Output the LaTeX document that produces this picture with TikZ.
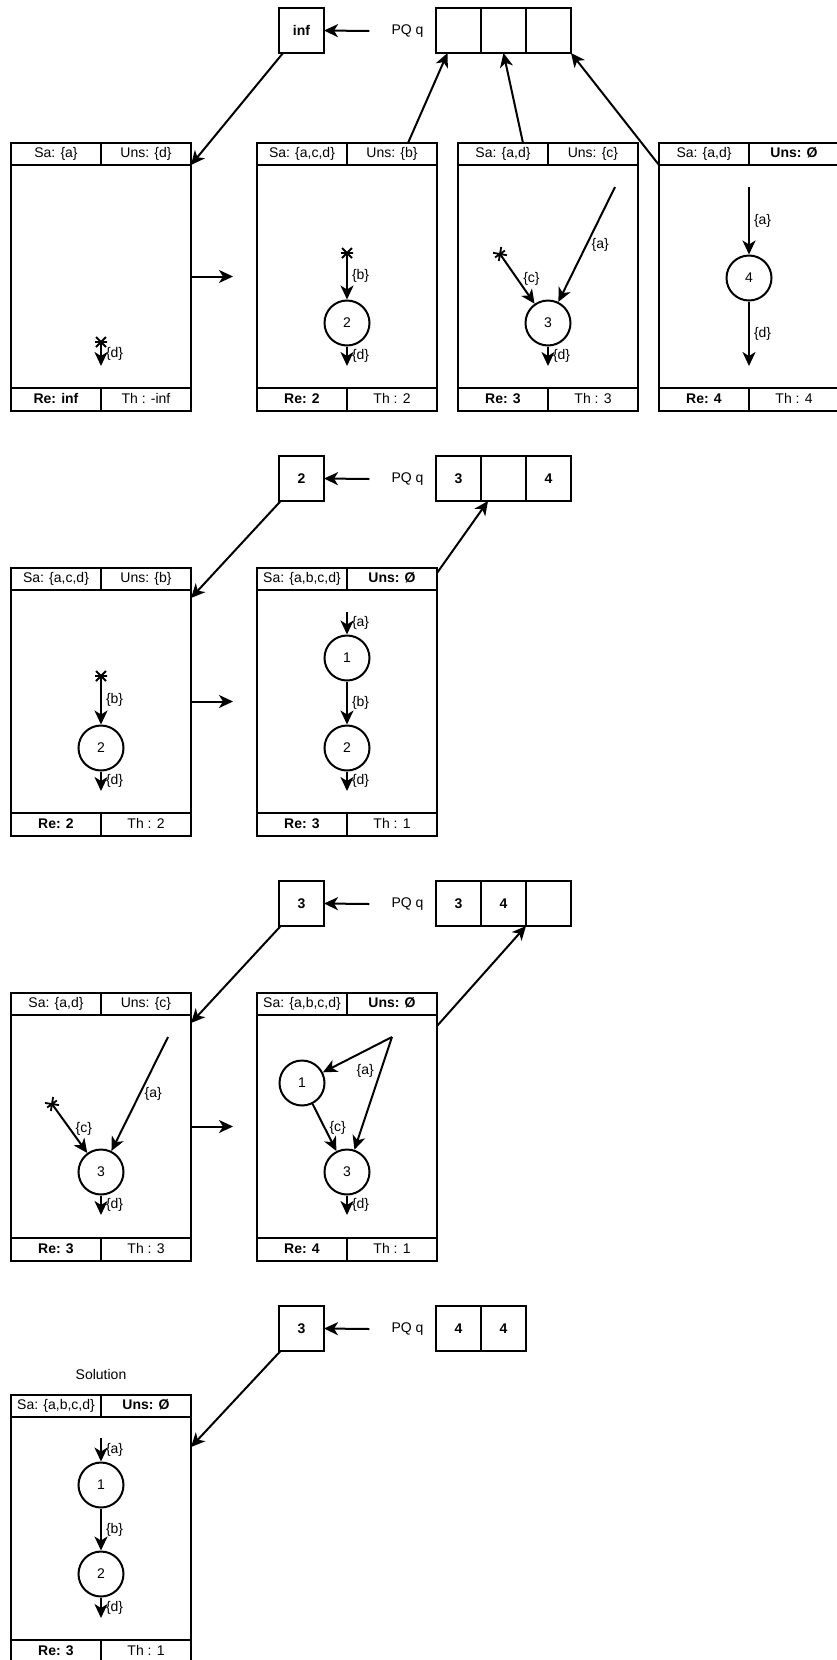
\documentclass[tikz,border=0pt]{standalone}
\usepackage{fontspec}
\setmainfont{Liberation Sans}
\usepackage{tikz}
\usetikzlibrary{
  arrows.meta,
  calc,
  positioning
}

% start marker of an edge with no source
\tikzset{
  nullmark/.pic={
    \draw[line width=1.8pt] (0,-6) -- (0,6) (-5,-5) -- (5,5) (-5,5) -- (5,-5);
  }
}

% #1 name, #2 #3 top left corner, #4 #5 header, #6 #7 footer
\newcommand{\searchstep}[7]{%
  \node[cell, anchor=north west] (#1-sa) at (#2,#3) {#4};
  \node[cell, right=0pt of #1-sa] (#1-uns) {#5};
  \node[pane, anchor=north west] (#1-body) at (#1-sa.south west) {};
  \node[cell, anchor=north west, minimum height=23pt] (#1-re) at (#1-body.south west) {\textbf{#6}};
  \node[cell, right=0pt of #1-re, minimum height=23pt] (#1-th) {#7};
}

\begin{document}
\begin{tikzpicture}[
  x=1pt, y=-1pt,
  every node/.append style={font=\fontsize{14}{16}\selectfont},
  cell/.style={draw, line width=2pt, minimum width=90pt, minimum height=22pt,
               inner sep=0pt, outer sep=0pt, text height=10pt, text depth=3pt},
  pane/.style={draw, line width=2pt, minimum width=180pt, minimum height=223pt,
               inner sep=0pt, outer sep=0pt},
  popbox/.style={draw, line width=2pt, minimum size=45pt, inner sep=0pt, outer sep=0pt},
  slot/.style={popbox},
  pqlabel/.style={inner xsep=22pt},
  state/.style={circle, draw, line width=2pt, minimum size=45pt, inner sep=0pt},
  lbl/.style={inner sep=2pt},
  arr/.style={-{Stealth[length=14pt, width=13pt, inset=4pt]}, line width=2pt}
]
\useasboundingbox (0,0) rectangle (836,1660);

% Step 1
\node[popbox] (pop1) at (301.5,30.5) {\textbf{inf}};
\node[pqlabel] (pq1) at (407.5,31) {PQ q};
\node[slot] (q1a) at (458.5,30.5) {};
\node[slot, right=0pt of q1a] (q1b) {};
\node[slot, right=0pt of q1b] (q1c) {};

\searchstep{F1}{11}{143}{Sa: \{a\}}{Uns: \{d\}}{Re: inf}{Th : -inf}
\searchstep{F2}{257}{143}{Sa: \{a,c,d\}}{Uns: \{b\}}{Re: 2}{Th : 2}
\searchstep{F3}{458}{143}{Sa: \{a,d\}}{Uns: \{c\}}{Re: 3}{Th : 3}
\searchstep{F4}{659}{143}{Sa: \{a,d\}}{\textbf{Uns: Ø}}{Re: 4}{Th : 4}

\coordinate (F1-src) at (101,342);
\coordinate (F1-end) at (101,366);
\draw[arr] (F1-src) -- node[lbl, right=2pt] {\{d\}} (F1-end);
\pic[rotate=-90] at (F1-src) {nullmark};

\node[state] (F2-n2) at (347,323) {2};
\coordinate (F2-src) at (347,253);
\coordinate (F2-end) at (347,366);
\draw[arr] (F2-src) -- node[lbl, right=2pt] {\{b\}} (F2-n2);
\draw[arr] (F2-n2) -- node[lbl, right=2pt] {\{d\}} (F2-end);
\pic[rotate=-90] at (F2-src) {nullmark};

\node[state] (F3-n3) at (548,323) {3};
\coordinate (F3-src) at (500,254);
\coordinate (F3-top) at (615,187);
\coordinate (F3-end) at (548,366);
\draw[arr] (F3-src) -- node[lbl, right=3pt] {\{c\}} (F3-n3);
\draw[arr] (F3-top) -- node[lbl, right=2pt] {\{a\}} (F3-n3);
\draw[arr] (F3-n3) -- node[lbl, right=2pt] {\{d\}} (F3-end);
\pic[rotate=-55] at (F3-src) {nullmark};

\node[state] (F4-n4) at (749,278) {4};
\coordinate (F4-top) at (749,187);
\coordinate (F4-end) at (749,366);
\draw[arr] (F4-top) -- node[lbl, right=2pt] {\{a\}} (F4-n4);
\draw[arr] (F4-n4) -- node[lbl, right=2pt] {\{d\}} (F4-end);

\draw[arr] (pq1.west) -- (pop1.east);
\draw[arr] (pop1) -- (F1-body.north east);
\draw[arr, shorten >=24pt] (F1-body.east) -- (F2-body.west);
\draw[arr] ($(F2-uns.north west)+(61,0)$) -- ($(q1a.south)+(-11,0)$);
\draw[arr] ($(F3-sa.north)+(20,0)$) -- (q1b.south);
\draw[arr] (F4-body.north west) -- (q1c.south east);

% Step 2
\node[popbox] (pop2) at (301.5,478.5) {\textbf{2}};
\node[pqlabel] (pq2) at (407.5,479) {PQ q};
\node[slot] (q2a) at (458.5,478.5) {\textbf{3}};
\node[slot, right=0pt of q2a] (q2b) {};
\node[slot, right=0pt of q2b] (q2c) {\textbf{4}};

\searchstep{G1}{11}{568}{Sa: \{a,c,d\}}{Uns: \{b\}}{Re: 2}{Th : 2}
\searchstep{G2}{257}{568}{Sa: \{a,b,c,d\}}{\textbf{Uns: Ø}}{Re: 3}{Th : 1}

\node[state] (G1-n2) at (101,748) {2};
\coordinate (G1-src) at (101,676);
\coordinate (G1-end) at (101,791);
\draw[arr] (G1-src) -- node[lbl, right=2pt] {\{b\}} (G1-n2);
\draw[arr] (G1-n2) -- node[lbl, right=2pt] {\{d\}} (G1-end);
\pic[rotate=-90] at (G1-src) {nullmark};

\node[state] (G2-n1) at (347,658) {1};
\node[state] (G2-n2) at (347,748) {2};
\coordinate (G2-top) at (347,612);
\coordinate (G2-end) at (347,791);
\draw[arr] (G2-top) -- node[lbl, right=2pt] {\{a\}} (G2-n1);
\draw[arr] (G2-n1) -- node[lbl, right=2pt] {\{b\}} (G2-n2);
\draw[arr] (G2-n2) -- node[lbl, right=2pt] {\{d\}} (G2-end);

\draw[arr] (pq2.west) -- (pop2.east);
\draw[arr] (pop2) -- ($(G1-body.north east)+(0,8)$);
\draw[arr, shorten >=24pt] (G1-body.east) -- (G2-body.west);
\draw[arr] ($(G2-uns.north east)+(0,5)$) -- ($(q2b.south west)+(7,0)$);

% Step 3
\node[popbox] (pop3) at (301.5,903.5) {\textbf{3}};
\node[pqlabel] (pq3) at (407.5,904) {PQ q};
\node[slot] (q3a) at (458.5,903.5) {\textbf{3}};
\node[slot, right=0pt of q3a] (q3b) {\textbf{4}};
\node[slot, right=0pt of q3b] (q3c) {};

\searchstep{H1}{11}{993}{Sa: \{a,d\}}{Uns: \{c\}}{Re: 3}{Th : 3}
\searchstep{H2}{257}{993}{Sa: \{a,b,c,d\}}{\textbf{Uns: Ø}}{Re: 4}{Th : 1}

\node[state] (H1-n3) at (101,1172) {3};
\coordinate (H1-src) at (52,1104);
\coordinate (H1-top) at (168,1037);
\coordinate (H1-end) at (101,1215);
\draw[arr] (H1-src) -- node[lbl, right=3pt] {\{c\}} (H1-n3);
\draw[arr] (H1-top) -- node[lbl, right=2pt] {\{a\}} (H1-n3);
\draw[arr] (H1-n3) -- node[lbl, right=2pt] {\{d\}} (H1-end);
\pic[rotate=-54] at (H1-src) {nullmark};

\node[state] (H2-n1) at (302,1083) {1};
\node[state] (H2-n3) at (347,1172) {3};
\coordinate (H2-top) at (392,1037);
\coordinate (H2-end) at (347,1215);
\draw[arr] (H2-top) -- (H2-n1);
\draw[arr] (H2-top) -- node[lbl, pos=0.3, left=4pt] {\{a\}} (H2-n3);
\draw[arr] (H2-n1) -- node[lbl, right=2pt] {\{c\}} (H2-n3);
\draw[arr] (H2-n3) -- node[lbl, right=2pt] {\{d\}} (H2-end);

\draw[arr] (pq3.west) -- (pop3.east);
\draw[arr] (pop3) -- ($(H1-body.north east)+(0,8)$);
\draw[arr, shorten >=24pt] (H1-body.east) -- (H2-body.west);
\draw[arr] ($(H2-body.north east)+(0,11)$) -- (q3b.south east);

% Step 4
\node[popbox] (pop4) at (301.5,1328.5) {\textbf{3}};
\node[pqlabel] (pq4) at (407.5,1329) {PQ q};
\node[slot] (q4a) at (458.5,1328.5) {\textbf{4}};
\node[slot, right=0pt of q4a] (q4b) {\textbf{4}};

\searchstep{S}{11}{1395}{Sa: \{a,b,c,d\}}{\textbf{Uns: Ø}}{Re: 3}{Th : 1}
\node[above=12pt of S-sa.north east] (soltitle) {Solution};

\node[state] (S-n1) at (101,1485) {1};
\node[state] (S-n2) at (101,1574) {2};
\coordinate (S-top) at (101,1438);
\coordinate (S-end) at (101,1618);
\draw[arr] (S-top) -- node[lbl, right=2pt] {\{a\}} (S-n1);
\draw[arr] (S-n1) -- node[lbl, right=2pt] {\{b\}} (S-n2);
\draw[arr] (S-n2) -- node[lbl, right=2pt] {\{d\}} (S-end);

\draw[arr] (pq4.west) -- (pop4.east);
\draw[arr] (pop4) -- ($(S-body.north east)+(0,30)$);

\end{tikzpicture}
\end{document}
